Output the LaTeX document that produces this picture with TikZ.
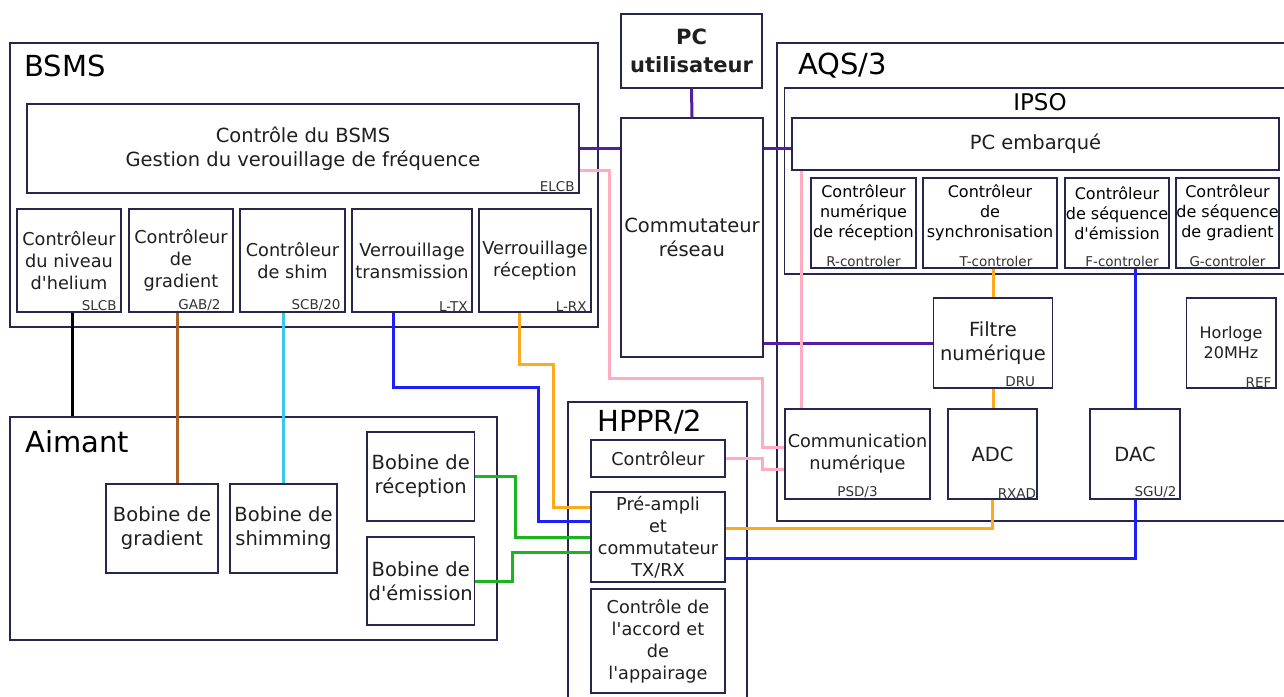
\documentclass[tikz,border=0pt]{standalone}
\usepackage{fontspec}
\setmainfont{DejaVu Sans}[Ligatures=TeXOff]
\usetikzlibrary{calc}
\definecolor{boxline}{RGB}{38,38,78}
\definecolor{tagc}{RGB}{50,50,50}
\definecolor{lanc}{RGB}{85,30,160}
\definecolor{busc}{RGB}{255,172,192}
\definecolor{rxc}{RGB}{255,170,30}
\definecolor{txc}{RGB}{30,30,250}
\definecolor{rfc}{RGB}{30,180,30}
\definecolor{gradc}{RGB}{170,100,40}
\definecolor{shimc}{RGB}{60,200,235}
\tikzset{
  frame/.style={draw=boxline, line width=1.5pt, inner sep=0pt},
  unit/.style={
    draw=boxline, line width=1.5pt, inner sep=0pt,
    align=center, text=black!88
  },
  tag/.style={
    font=\fontsize{13.5}{15}\selectfont, text=tagc,
    inner xsep=5pt, inner ysep=1.5pt, anchor=south east
  },
  title/.style={font=\fontsize{29}{34}\selectfont, anchor=base west, inner sep=0pt},
  txtL/.style={font=\fontsize{19.5}{24}\selectfont},
  txtM/.style={font=\fontsize{17.7}{22}\selectfont},
  txtS/.style={font=\fontsize{16}{20}\selectfont},
  wire/.style={line width=3pt},
  lan/.style={wire, draw=lanc},
  bus/.style={wire, draw=busc},
  rxsig/.style={wire, draw=rxc},
  txsig/.style={wire, draw=txc},
  rfsig/.style={wire, draw=rfc}
}
\begin{document}
\begin{tikzpicture}[x=1pt, y=-1pt]
  \useasboundingbox (0,0) rectangle (1284,696);
  \fill[white] (0,0) rectangle (1284,696);

  \node[frame, minimum width=588, minimum height=284] (bsms) at (304,185) {};
  \node[title] (bsmstitle) at (24,76) {BSMS};
  \node[unit, txtL, minimum width=552, minimum height=89] (elcb) at (303,148.5)
    {Contrôle du BSMS\\Gestion du verouillage de fréquence};
  \node[tag] (elcbtag) at (elcb.south east) {ELCB};
  \node[unit, txtM, minimum width=104, minimum height=103] (slcb) at (69,260.5)
    {Contrôleur\\du niveau\\d'helium};
  \node[tag] (slcbtag) at (slcb.south east) {SLCB};
  \node[unit, txtM, minimum width=104, minimum height=103] (gab) at (181,260.5)
    {Contrôleur\\de\\gradient};
  \node[tag, xshift=-8pt] (gabtag) at (gab.south east) {GAB/2};
  \node[unit, txtM, minimum width=105, minimum height=103] (scb) at (292.5,260.5)
    {Contrôleur\\de shim};
  \node[tag] (scbtag) at (scb.south east) {SCB/20};
  \node[unit, txtM, minimum width=120, minimum height=103] (ltx) at (412,260.5)
    {Verrouillage\\transmission};
  \node[tag] (ltxtag) at (ltx.south east) {L-TX};
  \node[unit, txtM, minimum width=112, minimum height=103] (lrx) at (535,260.5)
    {Verrouillage\\réception};
  \node[tag] (lrxtag) at (lrx.south east) {L-RX};

  \node[unit, font=\bfseries\fontsize{21}{28}\selectfont, minimum width=141, minimum height=74]
    (pcu) at (691.5,51) {PC\\utilisateur};
  \node[unit, txtL, minimum width=142, minimum height=239] (comm) at (692,237.5)
    {Commutateur\\réseau};

  \node[frame, minimum width=513, minimum height=478] (aqs) at (1033.5,282) {};
  \node[title] (aqstitle) at (798,74) {AQS/3};
  \node[frame, minimum width=501, minimum height=186] (ipso) at (1035,181) {};
  \node[font=\fontsize{23}{26}\selectfont, anchor=base, inner sep=0pt] (ipsotitle) at (1040,110) {IPSO};
  \node[unit, txtL, minimum width=487, minimum height=52] (pce) at (1035.5,144) {PC embarqué};
  \node[unit, minimum width=105, minimum height=90] (rctl) at (863.5,223) {};
  \node[txtS, align=center, inner sep=0pt] (rctltxt) at ([yshift=10pt]rctl.center)
    {Contrôleur\\numérique\\de réception};
  \node[tag, anchor=south] (rctltag) at (rctl.south) {R-controler};
  \node[unit, minimum width=134, minimum height=90] (tctl) at (990,223) {};
  \node[txtS, align=center, inner sep=0pt] (tctltxt) at ([yshift=10pt]tctl.center)
    {Contrôleur\\de\\synchronisation};
  \node[tag, anchor=south, xshift=6pt] (tctltag) at (tctl.south) {T-controler};
  \node[unit, minimum width=104, minimum height=90] (fctl) at (1117,223) {};
  \node[txtS, align=center, inner sep=0pt] (fctltxt) at ([yshift=10pt]fctl.center)
    {Contrôleur\\de séquence\\d'émission};
  \node[tag, anchor=south, xshift=5pt] (fctltag) at (fctl.south) {F-controler};
  \node[unit, minimum width=103, minimum height=90] (gctl) at (1227.5,223) {};
  \node[txtS, align=center, inner sep=0pt] (gctltxt) at ([yshift=10pt]gctl.center)
    {Contrôleur\\de séquence\\de gradient};
  \node[tag, anchor=south] (gctltag) at (gctl.south) {G-controler};

  \node[unit, txtL, minimum width=119, minimum height=90] (filt) at (993,343)
    {Filtre\\numérique};
  \node[tag, xshift=-13pt] (filttag) at (filt.south east) {DRU};
  \node[unit, txtS, minimum width=89.5, minimum height=90] (horl) at (1231,343)
    {Horloge\\20MHz};
  \node[tag] (horltag) at (horl.south east) {REF};
  \node[unit, txtM, minimum width=145, minimum height=90] (comnum) at (857.5,454)
    {Communication\\numérique};
  \node[tag, anchor=south] (comnumtag) at (comnum.south) {PSD/3};
  \node[unit, txtL, minimum width=89, minimum height=90] (adc) at (992.5,454) {ADC};
  \node[tag, xshift=3.5pt] (adctag) at (adc.south east) {RXAD};
  \node[unit, txtL, minimum width=90, minimum height=90] (dac) at (1135,454) {DAC};
  \node[tag, xshift=1pt] (dactag) at (dac.south east) {SGU/2};

  \node[frame, minimum width=179, minimum height=318] (hppr) at (657.5,561) {};
  \node[title] (hpprtitle) at (597,431) {HPPR/2};
  \node[unit, txtM, minimum width=134, minimum height=37] (hctl) at (658,458.5) {Contrôleur};
  \node[unit, txtM, minimum width=134, minimum height=90] (preamp) at (658,537)
    {Pré-ampli\\et\\commutateur\\TX/RX};
  \node[unit, txtM, minimum width=134, minimum height=104] (accord) at (658,641)
    {Contrôle de\\l'accord et\\de\\l'appairage};

  \node[frame, minimum width=487, minimum height=223] (aim) at (253.5,528.5) {};
  \node[title] (aimtitle) at (25,452) {Aimant};
  \node[unit, txtL, minimum width=112, minimum height=89] (bgrad) at (162,528.5)
    {Bobine de\\gradient};
  \node[unit, txtL, minimum width=107, minimum height=89] (bshim) at (283.5,528.5)
    {Bobine de\\shimming};
  \node[unit, txtL, minimum width=107.5, minimum height=89] (brec) at (420.75,476.5)
    {Bobine de\\réception};
  \node[unit, txtL, minimum width=107.5, minimum height=88] (bemi) at (420.75,581)
    {Bobine de\\d'émission};

  \coordinate (txbend) at (538.5,387);
  \coordinate (rxbend) at (553.5,364);

  \draw[lan] (pcu.south) -- (comm.north);
  \draw[lan] (elcb.east) -- (elcb.east -| comm.west);
  \draw[lan] (comm.east |- elcb.east) -- (pce.west |- elcb.east);
  \draw[lan] (comm.east |- filt.west) -- (filt.west);
  \draw[bus] ([yshift=-21.5pt]elcb.east) -- ++(30,0) |- ++(153,208)
    |- ([yshift=7pt]comnum.west);
  \draw[bus] (hctl.east) -- ++(37,0) |- ([yshift=-15pt]comnum.west);
  \draw[bus] ([xshift=17pt]comnum.north west) -- ([xshift=17pt]comnum.north west |- pce.south);
  \draw[rxsig] (filt.north |- tctl.south) -- (filt.north);
  \draw[rxsig] (filt.south) -- (filt.south |- adc.north);
  \draw[rxsig] (adc.south) |- ([yshift=9pt]preamp.east);
  \draw[txsig] (dac.north |- fctl.south) -- (dac.north);
  \draw[txsig] (dac.south) |- ([yshift=-21pt]preamp.east);
  \draw[wire, black] ([xshift=3pt]slcb.south) -- ([xshift=3pt]slcb.south |- aim.north);
  \draw[wire, gradc] ([xshift=-4pt]gab.south) -- ([xshift=-4pt]gab.south |- bgrad.north);
  \draw[wire, shimc] (bshim.north |- scb.south) -- (bshim.north);
  \draw[txsig] ([xshift=-19pt]ltx.south) |- (txbend) |- ([yshift=16pt]preamp.west);
  \draw[rxsig] ([xshift=-16pt]lrx.south) |- (rxbend) |- ([yshift=30pt]preamp.west);
  \draw[rfsig] (brec.east) -- ++(40.5,0) |- (preamp.west);
  \draw[rfsig] (bemi.east) -- ++(37.5,0) |- ([yshift=-15pt]preamp.west);
\end{tikzpicture}
\end{document}
